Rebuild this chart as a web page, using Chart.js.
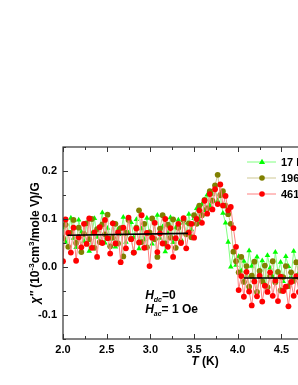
<!DOCTYPE html>
<html>
<head>
<meta charset="utf-8">
<script src="https://cdn.jsdelivr.net/npm/chart.js@4.4.0/dist/chart.umd.min.js"></script>
<style>
html, body { margin: 0; padding: 0; background: #fff; overflow: hidden; }
#wrap { width: 360px; height: 385px; }
</style>
</head>
<body>
<div id="wrap"><canvas id="chiChart" width="360" height="385"></canvas></div>
<script>
// temperature (K)
var temperatures = [
    2.00, 2.03, 2.06, 2.09, 2.12, 2.15, 2.18, 2.21, 2.24, 2.27,
    2.30, 2.33, 2.36, 2.39, 2.42, 2.45, 2.48, 2.51, 2.54, 2.57,
    2.60, 2.63, 2.66, 2.69, 2.72, 2.75, 2.78, 2.81, 2.84, 2.87,
    2.90, 2.93, 2.96, 2.99, 3.02, 3.05, 3.08, 3.11, 3.14, 3.17,
    3.20, 3.23, 3.26, 3.29, 3.32, 3.35, 3.38, 3.41, 3.44, 3.47,
    3.50, 3.53, 3.56, 3.59, 3.62, 3.65, 3.68, 3.71, 3.74, 3.77,
    3.80, 3.83, 3.86, 3.89, 3.92, 3.95, 3.98, 4.01, 4.04, 4.07,
    4.10, 4.13, 4.16, 4.19, 4.22, 4.25, 4.28, 4.31, 4.34, 4.37,
    4.40, 4.43, 4.46, 4.49, 4.52, 4.55, 4.58, 4.61, 4.64, 4.67,
    4.70, 4.73, 4.76, 4.79, 4.82, 4.85, 4.88, 4.91, 4.94, 4.97,
    5.00
];

// chi'' for each frequency
var chi17 = [
    0.082, 0.052, 0.071, 0.102, 0.060, 0.041, 0.098, 0.073, 0.054, 0.090,
    0.033, 0.070, 0.101, 0.062, 0.083, 0.113, 0.050, 0.081, 0.058, 0.092,
    0.042, 0.079, 0.068, 0.104, 0.052, 0.071, 0.093, 0.061, 0.099, 0.038,
    0.080, 0.057, 0.102, 0.069, 0.048, 0.091, 0.108, 0.060, 0.084, 0.032,
    0.071, 0.103, 0.051, 0.082, 0.098, 0.058, 0.092, 0.070, 0.110, 0.078,
    0.101, 0.122, 0.098, 0.131, 0.118, 0.150, 0.128, 0.152, 0.165, 0.138,
    0.148, 0.112, 0.092, 0.052, 0.000, 0.031, 0.004, 0.022, -0.008, 0.012,
    -0.018, 0.034, 0.002, -0.028, 0.021, -0.010, 0.013, -0.036, 0.024, -0.002,
    -0.020, 0.031, -0.012, 0.010, -0.030, 0.022, 0.001, -0.019, 0.033, 0.008,
    -0.011, 0.024, -0.028, 0.012, -0.003, -0.022, 0.020, -0.009, 0.011, -0.018,
    0.002
];
var chi196 = [
    0.060, 0.088, 0.042, 0.071, 0.098, 0.050, 0.082, 0.031, 0.069, 0.091,
    0.058, 0.100, 0.040, 0.079, 0.052, 0.089, 0.068, 0.109, 0.043, 0.061,
    0.090, 0.049, 0.081, 0.022, 0.071, 0.098, 0.059, 0.030, 0.082, 0.118,
    0.052, 0.090, 0.041, 0.072, 0.101, 0.058, 0.021, 0.080, 0.108, 0.049,
    0.088, 0.061, 0.099, 0.040, 0.082, 0.052, 0.098, 0.068, 0.091, 0.062,
    0.108, 0.090, 0.128, 0.108, 0.140, 0.122, 0.158, 0.138, 0.170, 0.192,
    0.150, 0.158, 0.128, 0.110, 0.090, 0.032, 0.012, -0.011, 0.021, -0.031,
    0.002, -0.041, -0.018, 0.011, -0.052, -0.008, -0.030, 0.003, -0.042, -0.019,
    0.012, -0.032, -0.010, -0.049, -0.021, 0.002, -0.040, -0.011, -0.029, 0.010,
    -0.022, -0.041, 0.001, -0.032, -0.012, -0.050, -0.020, 0.003, -0.031, -0.009,
    -0.021
];
var chi461 = [
    0.012, 0.099, 0.071, 0.030, 0.082, 0.013, 0.062, 0.041, 0.090, 0.048,
    0.101, 0.040, 0.072, 0.021, 0.083, 0.050, 0.098, 0.060, 0.028, 0.091,
    0.049, 0.072, 0.010, 0.082, 0.039, 0.103, 0.058, 0.030, 0.080, 0.051,
    0.108, 0.040, 0.071, 0.002, 0.061, 0.092, 0.031, 0.070, 0.049, 0.100,
    0.042, 0.081, 0.021, 0.060, 0.090, 0.050, 0.102, 0.039, 0.072, 0.090,
    0.061, 0.100, 0.118, 0.092, 0.138, 0.111, 0.152, 0.120, 0.162, 0.131,
    0.172, 0.128, 0.148, 0.118, 0.125, 0.081, 0.042, -0.048, -0.019, -0.062,
    -0.010, -0.051, -0.080, -0.030, -0.061, -0.018, -0.072, -0.039, -0.052, -0.011,
    -0.060, -0.028, -0.071, -0.020, -0.050, -0.041, -0.082, -0.031, -0.060, -0.019,
    -0.052, -0.070, -0.029, -0.061, -0.040, -0.021, -0.072, -0.049, -0.030, -0.058,
    -0.040
];

// straight fits below and above the transition
var fitLowT = [2.05, 3.43];
var fitLowChi = [0.066, 0.070];
var fitHighT = [4.07, 5.0];
var fitHighChi = [-0.023, -0.023];

var seriesNames = ['17 Hz', '196 Hz', '461 Hz'];
var xTicks = [2.0, 2.5, 3.0, 3.5, 4.0, 4.5, 5.0];
var yTicks = [-0.1, 0.0, 0.1, 0.2];

var FONT = '"Liberation Sans", Arial, sans-serif';

function toPoints(xs, ys) {
    return xs.map(function (x, i) { return { x: x, y: ys[i] }; });
}

function drawParts(ctx, parts, x, y) {
    parts.forEach(function (p) {
        ctx.font = p.font;
        ctx.fillText(p.t, x, y + (p.dy || 0));
        x += ctx.measureText(p.t).width;
    });
}

function partsWidth(ctx, parts) {
    var w = 0;
    parts.forEach(function (p) { ctx.font = p.font; w += ctx.measureText(p.t).width; });
    return w;
}

function drawMarker(ctx, style, x, y, r) {
    ctx.beginPath();
    if (style === 'triangle') {
        ctx.moveTo(x, y - r * 1.2);
        ctx.lineTo(x + r * 1.1, y + r * 0.7);
        ctx.lineTo(x - r * 1.1, y + r * 0.7);
        ctx.closePath();
    } else {
        ctx.arc(x, y, r, 0, Math.PI * 2);
    }
    ctx.fill();
}

var decorations = {
    id: 'decorations',
    afterDraw: function (chart) {
        var ctx = chart.ctx;
        var a = chart.chartArea;
        var xs = chart.scales.x;
        var ys = chart.scales.y;
        ctx.save();

        // frame
        ctx.strokeStyle = '#333';
        ctx.lineWidth = 1.2;
        ctx.strokeRect(a.left, a.top, a.right - a.left, a.bottom - a.top);

        // inward ticks
        ctx.lineWidth = 1;
        ctx.beginPath();
        for (var i = 0; i <= 13; i++) {
            var px = Math.round(xs.getPixelForValue(2 + i * 0.25)) + 0.5;
            var len = (i % 2 === 0) ? 5 : 3;
            ctx.moveTo(px, a.bottom); ctx.lineTo(px, a.bottom - len);
            ctx.moveTo(px, a.top); ctx.lineTo(px, a.top + len);
        }
        for (var j = -3; j <= 5; j++) {
            var py = Math.round(ys.getPixelForValue(j * 0.05)) + 0.5;
            var l2 = (j % 2 === 0) ? 5 : 3;
            ctx.moveTo(a.left, py); ctx.lineTo(a.left + l2, py);
            ctx.moveTo(a.right, py); ctx.lineTo(a.right - l2, py);
        }
        ctx.stroke();

        ctx.fillStyle = '#000';
        ctx.textAlign = 'left';
        ctx.textBaseline = 'alphabetic';

        // x title
        var xt = [
            { t: 'T', font: 'italic bold 12px ' + FONT },
            { t: ' (K)', font: 'bold 12px ' + FONT }
        ];
        var xc = (a.left + a.right) / 2;
        drawParts(ctx, xt, xc - partsWidth(ctx, xt) / 2, 365);

        // y title
        var yt = [
            { t: '\u03c7\'\'', font: 'italic bold 12px ' + FONT },
            { t: ' (10', font: 'bold 12px ' + FONT },
            { t: '-3', font: 'bold 8px ' + FONT, dy: -5 },
            { t: 'cm', font: 'bold 12px ' + FONT },
            { t: '3', font: 'bold 8px ' + FONT, dy: -5 },
            { t: '/mole V)/G', font: 'bold 12px ' + FONT }
        ];
        ctx.save();
        ctx.translate(39, (a.top + a.bottom) / 2);
        ctx.rotate(-Math.PI / 2);
        drawParts(ctx, yt, -partsWidth(ctx, yt) / 2, 0);
        ctx.restore();

        // field annotation
        var hx = xs.getPixelForValue(2.94);
        var h1 = ys.getPixelForValue(-0.066);
        var h2 = ys.getPixelForValue(-0.096);
        drawParts(ctx, [
            { t: 'H', font: 'italic bold 12px ' + FONT },
            { t: 'dc', font: 'italic bold 7px ' + FONT, dy: 3 },
            { t: '=0', font: 'bold 12px ' + FONT }
        ], hx, h1);
        drawParts(ctx, [
            { t: 'H', font: 'italic bold 12px ' + FONT },
            { t: 'ac', font: 'italic bold 7px ' + FONT, dy: 3 },
            { t: '= 1 Oe', font: 'bold 12px ' + FONT }
        ], hx, h2);

        // legend
        var ds = chart.data.datasets;
        ctx.textBaseline = 'middle';
        ctx.font = 'bold 11px ' + FONT;
        for (var k = 0; k < seriesNames.length; k++) {
            var ly = a.top + 15 + k * 16;
            ctx.strokeStyle = ds[k].borderColor;
            ctx.lineWidth = 1;
            ctx.beginPath();
            ctx.moveTo(a.left + 184, ly); ctx.lineTo(a.left + 213, ly);
            ctx.stroke();
            ctx.fillStyle = ds[k].pointBackgroundColor;
            drawMarker(ctx, ds[k].pointStyle, a.left + 199, ly, 2.8);
            ctx.fillStyle = '#000';
            ctx.fillText(seriesNames[k], a.left + 218, ly + 1);
        }
        ctx.restore();
    }
};

var ctx = document.getElementById('chiChart').getContext('2d');
var chiChart = new Chart(ctx, {
    type: 'line',
    data: {
        datasets: [{
            label: seriesNames[0],
            data: toPoints(temperatures, chi17),
            borderColor: '#80ff80',
            borderWidth: 1,
            pointStyle: 'triangle',
            pointRadius: 3.2,
            pointBorderWidth: 0,
            pointBackgroundColor: '#00ff00',
            order: 3
        }, {
            label: seriesNames[1],
            data: toPoints(temperatures, chi196),
            borderColor: '#cfc893',
            borderWidth: 1,
            pointStyle: 'circle',
            pointRadius: 2.9,
            pointBorderWidth: 0,
            pointBackgroundColor: '#808000',
            order: 2
        }, {
            label: seriesNames[2],
            data: toPoints(temperatures, chi461),
            borderColor: '#ff8080',
            borderWidth: 1,
            pointStyle: 'circle',
            pointRadius: 2.9,
            pointBorderWidth: 0,
            pointBackgroundColor: '#ff0000',
            order: 1
        }, {
            label: 'fit low',
            data: toPoints(fitLowT, fitLowChi),
            borderColor: '#000',
            borderWidth: 1.6,
            pointRadius: 0,
            order: 0
        }, {
            label: 'fit high',
            data: toPoints(fitHighT, fitHighChi),
            borderColor: '#000',
            borderWidth: 1.6,
            pointRadius: 0,
            order: 0
        }]
    },
    options: {
        responsive: false,
        animation: false,
        layout: { padding: { top: 147, right: 13, left: 0, bottom: 0 } },
        plugins: {
            legend: { display: false },
            tooltip: { enabled: false }
        },
        scales: {
            x: {
                type: 'linear',
                min: 2.0,
                max: 5.25,
                grid: { display: false, drawTicks: false },
                border: { display: false },
                afterBuildTicks: function (scale) {
                    scale.ticks = xTicks.map(function (v) { return { value: v }; });
                },
                afterFit: function (scale) { scale.height = 46; },
                ticks: {
                    color: '#000',
                    padding: 4,
                    maxRotation: 0,
                    font: { family: FONT, size: 11, weight: 'bold' },
                    callback: function (v) { return v.toFixed(1); }
                }
            },
            y: {
                min: -0.15,
                max: 0.25,
                grid: { display: false, drawTicks: false },
                border: { display: false },
                afterBuildTicks: function (scale) {
                    scale.ticks = yTicks.map(function (v) { return { value: v }; });
                },
                afterFit: function (scale) { scale.width = 63; },
                ticks: {
                    color: '#000',
                    padding: 6,
                    font: { family: FONT, size: 11, weight: 'bold' },
                    callback: function (v) { return v.toFixed(1); }
                }
            }
        }
    },
    plugins: [decorations]
});
</script>
</body>
</html>
